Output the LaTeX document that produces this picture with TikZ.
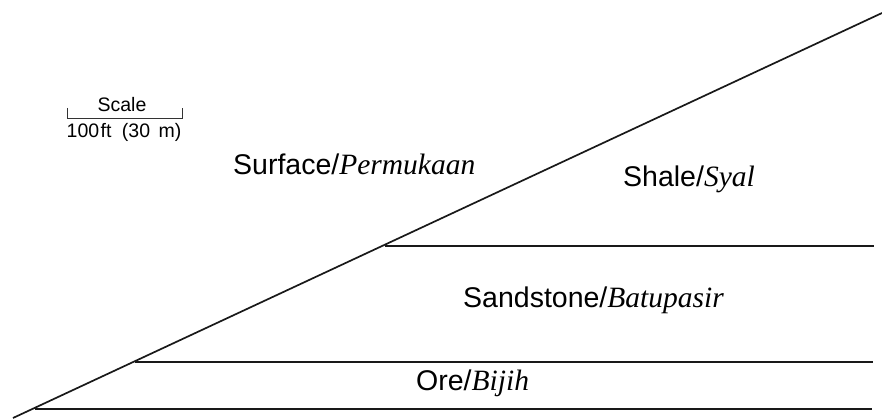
\documentclass[tikz,border=0pt]{standalone}
\usepackage{fontspec}
\setmainfont{Liberation Sans}
\newfontfamily\serifit{Liberation Serif}
\tikzset{
  strat/.style={draw=black!90,line width=1.7pt},
  thin/.style={draw=black!80,line width=1pt},
  lab/.style={inner sep=0pt,anchor=base west,font=\fontsize{28.5pt}{31pt}\selectfont},
  small/.style={inner sep=0pt,anchor=base,font=\fontsize{19.5pt}{22pt}\selectfont}
}
\newcommand{\indo}[1]{{\serifit\itshape\fontsize{29.5pt}{31pt}\selectfont #1}}
\begin{document}
\begin{tikzpicture}[x=1pt,y=-1pt]
\useasboundingbox (0,0) rectangle (882,419);
\coordinate (A) at (13,418);
\coordinate (B) at (882,13);
\coordinate (s1) at (385,246);
\coordinate (e1) at (874,246);
\coordinate (s2) at (135,362);
\coordinate (e2) at (873,362);
\coordinate (s3) at (35,409);
\coordinate (e3) at (872,409);
\draw[strat] (A) -- (B);
\draw[strat] (s1) -- (e1);
\draw[strat] (s2) -- (e2);
\draw[strat] (s3) -- (e3);
\coordinate (l) at (67,119);
\coordinate (r) at (182,119);
\coordinate (lt) at (67,108);
\coordinate (rt) at (182,108);
\draw[thin] (lt) -- (l) -- (r) -- (rt);
\node[small] (scale) at (122,112) {Scale};
\node[small] (dist) at (124,138) {100\hspace{1.5pt}ft\hspace{5pt} (30\hspace{3pt} m)};
\node[lab] (surf) at (233,175) {Surface/\indo{Permukaan}};
\node[lab] (shale) at (623,187) {Shale/\indo{Syal}};
\node[lab] (sand) at (463,307) {Sandstone/\indo{Batupasir}};
\node[lab] (ore) at (416,390) {Ore/\indo{Bijih}};
\end{tikzpicture}
\end{document}
